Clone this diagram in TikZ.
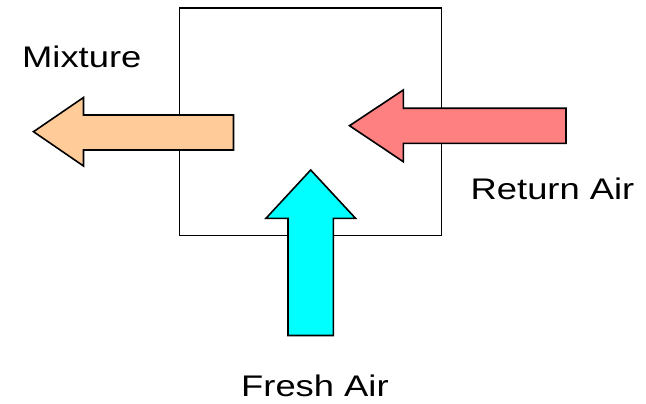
\documentclass[tikz,border=0pt]{standalone}
\usepackage{fontspec}
\setmainfont{Liberation Sans}
\definecolor{mixfill}{HTML}{FFCC99}
\definecolor{retfill}{HTML}{FF8080}
\definecolor{freshfill}{HTML}{00FFFF}
\tikzset{
  chamber/.style={draw=black, line width=1.4pt},
  flowarrow/.style={draw=black, line width=1.6pt, line join=miter},
  flowlabel/.style={anchor=base west, inner sep=0pt, font=\fontsize{29.8}{32}\selectfont},
}
\newcommand{\widetext}[1]{\scalebox{1.22}[1]{#1}}
\begin{document}
\begin{tikzpicture}[x=1pt, y=-1pt]
  \useasboundingbox (0,0) rectangle (646,404);
  % mixing chamber
  \draw[chamber] (179.5,8) rectangle (441.5,235.5);
  % mixture leaving to the left
  \draw[flowarrow, fill=mixfill]
    (233.5,115) -- (83.5,115) -- (83.5,97.5) -- (33.5,131.7)
    -- (83.5,166) -- (83.5,150) -- (233.5,150) -- cycle;
  % return air entering from the right
  \draw[flowarrow, fill=retfill]
    (566,108.3) -- (403.3,108.3) -- (403.3,90) -- (349.5,125.7)
    -- (403.3,161.7) -- (403.3,143.3) -- (566,143.3) -- cycle;
  % fresh air entering from below
  \draw[flowarrow, fill=freshfill]
    (288,335.5) -- (288,218.3) -- (266,218.3) -- (310.7,170)
    -- (355.5,218.3) -- (333.3,218.3) -- (333.3,335.5) -- cycle;
  % labels
  \node[flowlabel] (mix) at (22,67.5) {\widetext{Mixture}};
  \node[flowlabel] (ret) at (470.5,199.5) {\widetext{Return Air}};
  \node[flowlabel] (fresh) at (241,396) {\widetext{Fresh Air}};
\end{tikzpicture}
\end{document}
